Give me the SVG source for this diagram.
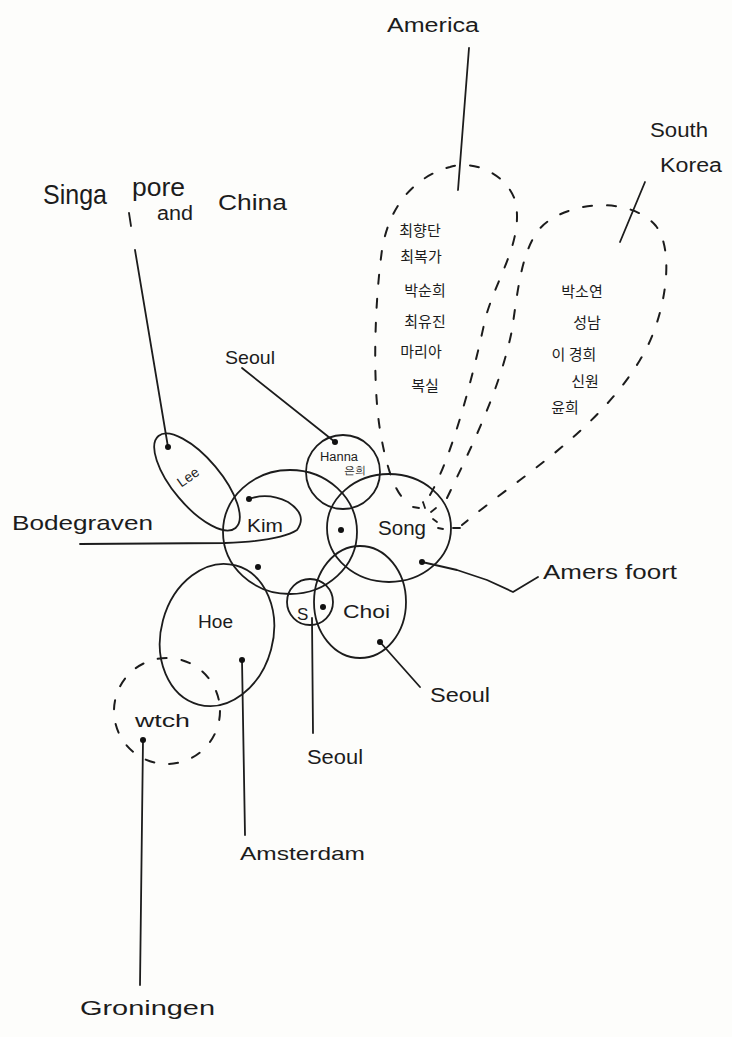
<svg xmlns="http://www.w3.org/2000/svg" width="732" height="1037" viewBox="0 0 732 1037">
<style>
.ln{fill:none;stroke:#1c1c1c;stroke-width:1.8;stroke-linecap:round;stroke-linejoin:round}
.ds{fill:none;stroke:#1c1c1c;stroke-width:2;stroke-linecap:round;stroke-dasharray:9 15}
.dt{fill:#111}
.t{font-family:"Liberation Sans","DejaVu Sans",sans-serif;fill:#1c1c1c}
.k{font-family:"Noto Sans CJK KR","Noto Sans",sans-serif;fill:#1c1c1c;font-size:15px;text-anchor:middle}
</style>
<rect x="0" y="0" width="732" height="1037" fill="#fdfdfb"/>
<g id="connectors">
<line class="ln" x1="469" y1="48" x2="458" y2="190"/>
<line class="ln" x1="645" y1="182" x2="620" y2="242"/>
<line class="ln" x1="168" y1="447" x2="135" y2="250"/>
<line class="ln" x1="129" y1="213" x2="131" y2="226"/>
<line class="ln" x1="242" y1="368" x2="335" y2="442"/>
<path class="ln" d="M80 544 L225 543 Q280 541 297 530 Q308 515 288 502 Q268 492 249 499"/>
<path class="ln" d="M422 562 L457 570 L487 580 L513 592 L538 577"/>
<line class="ln" x1="380" y1="642" x2="420" y2="687"/>
<line class="ln" x1="312" y1="618" x2="313" y2="733"/>
<line class="ln" x1="242" y1="660" x2="245" y2="835"/>
<line class="ln" x1="143" y1="740" x2="140" y2="985"/>
</g>
<g id="america">
<path class="ds" d="M430 495 C450 460 470 390 485 320 C495 280 525 240 515 200 C505 172 472 160 450 167 C420 175 390 200 382 250 C375 300 372 380 380 430 C385 460 392 485 402 497"/>
<text class="t" x="387" y="32" font-size="20" textLength="92" lengthAdjust="spacingAndGlyphs">America</text>
<text class="k" x="420" y="236">최향단</text>
<text class="k" x="421" y="262">최복가</text>
<text class="k" x="425" y="296">박순희</text>
<text class="k" x="425" y="327">최유진</text>
<text class="k" x="421" y="357">마리아</text>
<text class="k" x="425" y="391">복실</text>
</g>
<g id="south-korea">
<path class="ds" d="M447 498 C470 450 500 390 512 330 C518 290 522 240 547 222 C577 200 632 198 656 226 C676 252 665 320 640 360 C610 410 560 450 520 480 C500 495 480 510 462 525"/>
<text class="t" x="650" y="137" font-size="20" textLength="58" lengthAdjust="spacingAndGlyphs">South</text>
<text class="t" x="660" y="172" font-size="20" textLength="62" lengthAdjust="spacingAndGlyphs">Korea</text>
<text class="k" x="582" y="297">박소연</text>
<text class="k" x="587" y="328">성남</text>
<text class="k" x="574" y="360">이 경희</text>
<text class="k" x="585" y="387">신원</text>
<text class="k" x="565" y="413">윤희</text>
</g>
<g id="singapore">
<text class="t" x="43" y="204" font-size="28" textLength="64" lengthAdjust="spacingAndGlyphs">Singa</text>
<text class="t" x="132" y="196" font-size="26" textLength="53" lengthAdjust="spacingAndGlyphs">pore</text>
<text class="t" x="157" y="220" font-size="20" textLength="36" lengthAdjust="spacingAndGlyphs">and</text>
<text class="t" x="218" y="210" font-size="22" textLength="69" lengthAdjust="spacingAndGlyphs">China</text>
</g>
<g id="lee">
<ellipse class="ln" cx="197" cy="482" rx="60" ry="24" transform="rotate(50 197 482)"/>
<circle class="dt" cx="168" cy="447" r="3"/>
<text class="t" x="188" y="482" font-size="14" text-anchor="middle" transform="rotate(-35 188 477)">Lee</text>
</g>
<g id="kim">
<ellipse class="ln" cx="290" cy="532" rx="67" ry="62"/>
<circle class="dt" cx="249" cy="499" r="3"/>
<text class="t" x="247" y="532" font-size="19" textLength="36" lengthAdjust="spacingAndGlyphs">Kim</text>
</g>
<g id="hanna">
<circle class="ln" cx="343" cy="472" r="37"/>
<circle class="dt" cx="335" cy="442" r="3"/>
<text class="t" x="320" y="461" font-size="12" textLength="38" lengthAdjust="spacingAndGlyphs">Hanna</text>
<text class="t" x="344" y="474" font-size="11" font-family="Noto Sans CJK KR,sans-serif">은희</text>
</g>
<g id="song">
<ellipse class="ln" cx="389" cy="528" rx="62" ry="54"/>
<circle class="dt" cx="341" cy="530" r="3"/>
<circle class="dt" cx="422" cy="562" r="3"/>
<text class="t" x="378" y="535" font-size="21" textLength="48" lengthAdjust="spacingAndGlyphs">Song</text>
<g class="ln">
<line x1="413" y1="507" x2="419" y2="508"/>
<line x1="423" y1="502" x2="425" y2="508"/>
<line x1="431" y1="512" x2="436" y2="508"/>
<line x1="433" y1="519" x2="437" y2="522"/>
<line x1="438" y1="528" x2="443" y2="529"/>
<line x1="453" y1="528" x2="460" y2="528"/>
</g>
<text class="t" x="543" y="579" font-size="20" textLength="134" lengthAdjust="spacingAndGlyphs">Amers foort</text>
</g>
<g id="choi">
<ellipse class="ln" cx="360" cy="602" rx="46" ry="56"/>
<circle class="dt" cx="380" cy="642" r="3"/>
<text class="t" x="343" y="618" font-size="19" textLength="47" lengthAdjust="spacingAndGlyphs">Choi</text>
<text class="t" x="430" y="702" font-size="20" textLength="60" lengthAdjust="spacingAndGlyphs">Seoul</text>
</g>
<g id="s">
<circle class="ln" cx="310" cy="602" r="23"/>
<circle class="dt" cx="323" cy="607" r="3"/>
<text class="t" x="297" y="620" font-size="17">S</text>
<text class="t" x="307" y="764" font-size="20" textLength="56" lengthAdjust="spacingAndGlyphs">Seoul</text>
</g>
<g id="hoe">
<ellipse class="ln" cx="217" cy="635" rx="56" ry="72" transform="rotate(15 217 635)"/>
<circle class="dt" cx="258" cy="567" r="3"/>
<circle class="dt" cx="242" cy="660" r="3"/>
<text class="t" x="198" y="628" font-size="18" textLength="35" lengthAdjust="spacingAndGlyphs">Hoe</text>
<text class="t" x="240" y="860" font-size="19" textLength="125" lengthAdjust="spacingAndGlyphs">Amsterdam</text>
</g>
<g id="wtch">
<circle class="ds" cx="167" cy="711" r="53"/>
<circle class="dt" cx="143" cy="740" r="3"/>
<text class="t" x="135" y="727" font-size="18" textLength="55" lengthAdjust="spacingAndGlyphs">wtch</text>
<text class="t" x="80" y="1015" font-size="20" textLength="135" lengthAdjust="spacingAndGlyphs">Groningen</text>
</g>
<g id="seoul-top">
<text class="t" x="225" y="364" font-size="19" textLength="50" lengthAdjust="spacingAndGlyphs">Seoul</text>
</g>
<g id="bodegraven">
<text class="t" x="12" y="530" font-size="21" textLength="141" lengthAdjust="spacingAndGlyphs">Bodegraven</text>
</g>
</svg>
